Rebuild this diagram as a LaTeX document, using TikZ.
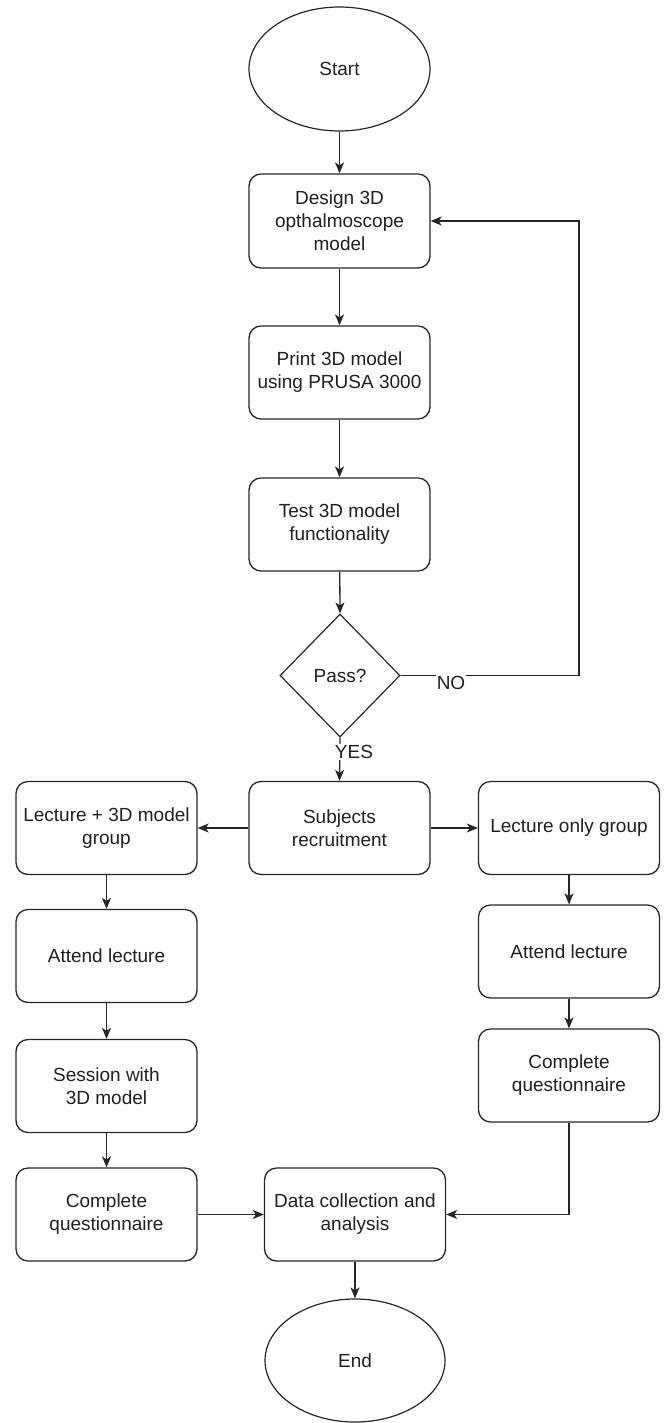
\documentclass[tikz,border=0pt]{standalone}
\usepackage{fontspec}
\setmainfont{Liberation Sans}
\usetikzlibrary{shapes.geometric,arrows.meta}
\begin{document}
\begin{tikzpicture}[x=1pt,y=-1pt,
  every node/.style={font=\fontsize{19}{23}\selectfont, text=black!88, align=center, inner sep=0pt},
  stepbox/.style={draw=black!85, line width=1.3pt, rounded corners=12pt, minimum width=181pt, minimum height=93pt},
  term/.style={draw=black!85, line width=1.2pt, ellipse, minimum width=181pt, minimum height=124pt},
  decide/.style={draw=black!85, line width=1.2pt, diamond, minimum width=120pt, minimum height=123pt},
  lbl/.style={fill=white, inner sep=1pt},
  conn/.style={draw=black!85, line width=1.3pt, -{Stealth[length=11pt,width=9pt,inset=3pt]}},
  plain/.style={draw=black!85, line width=1.3pt}
]
\useasboundingbox (0,0) rectangle (665,1423);

\node[term] (start) at (339.5,69) {Start};
\node[stepbox, minimum height=94pt] (design) at (339.5,221) {Design 3D\\opthalmoscope\\model};
\node[stepbox] (print) at (339.5,372.5) {Print 3D model\\using PRUSA 3000};
\node[stepbox] (test) at (339.5,524.5) {Test 3D model\\functionality};
\node[decide] (pass) at (340,675.5) {Pass?};
\node[stepbox] (subj) at (339.5,828) {Subjects\\recruitment};
\node[stepbox] (lec3d) at (106.5,828) {Lecture + 3D model\\group};
\node[stepbox] (leconly) at (569,828) {Lecture only group};
\node[stepbox] (att1) at (106.5,956) {Attend lecture};
\node[stepbox] (sess) at (106.5,1086) {Session with\\3D model};
\node[stepbox] (comp1) at (106.5,1214.5) {Complete\\questionnaire};
\node[stepbox] (att2) at (569,951.5) {Attend lecture};
\node[stepbox] (comp2) at (569,1075.5) {Complete\\questionnaire};
\node[stepbox] (data) at (355,1214.5) {Data collection and\\analysis};
\node[term, minimum width=180pt, minimum height=123pt] (end) at (355,1360.5) {End};

\coordinate (c1) at (579,675.5);

\draw[conn] (start) -- (design);
\draw[conn] (design) -- (print);
\draw[conn] (print) -- (test);
\draw[conn] (test) -- (pass.north);
\draw[conn] (pass.east) -- (c1) |- (design.east);
\node[lbl] (no) at (451,683) {NO};
\draw[conn] (pass.south) -- (subj.north);
\node[lbl] (yes) at (354,752) {YES};
\draw[conn] (subj.west) -- (lec3d.east);
\draw[conn] (subj.east) -- (leconly.west);
\draw[conn] (lec3d) -- (att1);
\draw[conn] (att1) -- (sess);
\draw[conn] (sess) -- (comp1);
\draw[conn] (leconly) -- (att2);
\draw[conn] (att2) -- (comp2);
\draw[conn] (comp1.east) -- (data.west);
\draw[conn] (comp2.south) |- (data.east);
\draw[conn] (data) -- (end);
\end{tikzpicture}
\end{document}
